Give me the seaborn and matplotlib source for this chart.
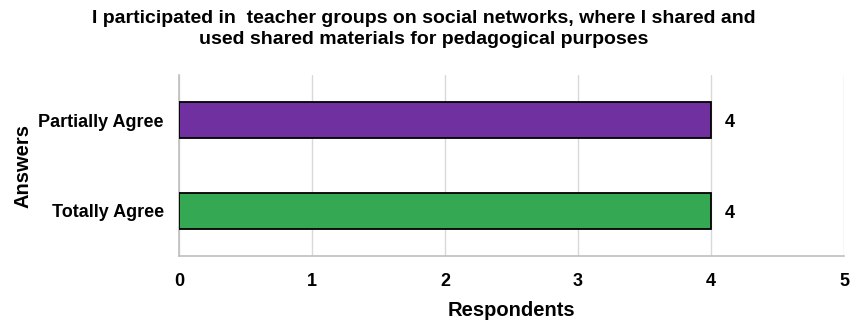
import matplotlib
matplotlib.use("Agg")
import matplotlib.pyplot as plt
import seaborn as sns
import pandas as pd

answers = ["Partially Agree", "Totally Agree"]
respondents = [4, 4]
bar_colors = ["#7030A0", "#34A853"]
x_ticks = [0, 1, 2, 3, 4, 5]

sns.set_theme(style="white")
plt.rcParams["font.family"] = ["Liberation Sans", "DejaVu Sans"]
plt.rcParams["text.color"] = "black"
plt.rcParams["axes.labelcolor"] = "black"
plt.rcParams["xtick.color"] = "black"
plt.rcParams["ytick.color"] = "black"

df = pd.DataFrame({"Answers": answers, "Respondents": respondents})

fig = plt.figure(figsize=(8.5, 3.23), dpi=100)
ax = fig.add_axes([179 / 850, 1 - 256 / 323, (844 - 179) / 850, (256 - 75) / 323])

sns.barplot(data=df, x="Respondents", y="Answers", hue="Answers",
            palette=bar_colors, saturation=1, orient="h", width=0.4,
            legend=False, edgecolor="black", linewidth=1.3, ax=ax, zorder=3)

ax.set_xlim(0, 5)
ax.set_ylim(1.5, -0.5)
ax.set_xticks(x_ticks)
ax.xaxis.grid(True, color="#D9D9D9", linewidth=1, zorder=0)
ax.set_axisbelow(True)
for side in ["top", "right"]:
    ax.spines[side].set_visible(False)
for side in ["left", "bottom"]:
    ax.spines[side].set_color("#BFBFBF")
    ax.spines[side].set_linewidth(1.2)

ax.tick_params(axis="x", length=0, pad=12, labelsize=13)
ax.tick_params(axis="y", length=0, pad=11, labelsize=13)
for lbl in ax.get_xticklabels() + ax.get_yticklabels():
    lbl.set_fontweight("bold")

ax.set_xlabel("Respondents", fontsize=14.5, fontweight="bold", labelpad=8)
ax.set_ylabel("Answers", fontsize=14.5, fontweight="bold", labelpad=4)

for patch, val in zip(ax.patches, respondents):
    y = patch.get_y() + patch.get_height() / 2
    ax.text(val + 0.1, y + 0.03, f"{val}", va="center", ha="left",
            fontsize=13, fontweight="bold", color="black")

fig.text(424 / 850, 1 - 29 / 323,
         "I participated in  teacher groups on social networks, where I shared and\n"
         "used shared materials for pedagogical purposes",
         ha="center", va="center", fontsize=14, fontweight="bold",
         linespacing=1.38)

fig.savefig("out.png", dpi=100)
